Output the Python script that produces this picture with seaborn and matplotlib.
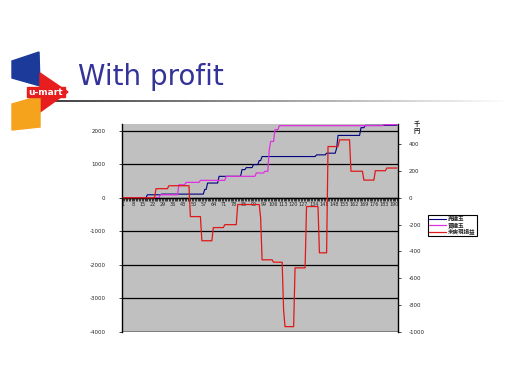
import numpy as np
import pandas as pd
import matplotlib
matplotlib.use("Agg")
import matplotlib.pyplot as plt
from matplotlib.patches import Polygon, Rectangle
import seaborn as sns

# ------------------ DATA (step levels) ------------------

series_names = ["売建玉", "買建玉", "未実現損益"]

sell_levels = [0, 90, 110, 250, 440, 640, 840, 900, 990, 1110, 1230, 1280, 1330, 1480, 1860, 2090, 2160]
sell_counts = [17, 10, 30, 2, 8, 16, 3, 5, 4, 2, 38, 7, 7, 1, 16, 3, 23]

buy_levels = [0, 90, 390, 460, 520, 640, 740, 790, 1430, 1680, 2030, 2150, 2180]
buy_counts = [26, 13, 5, 10, 18, 21, 6, 3, 1, 3, 3, 73, 10]

pnl_levels = [0, 68, 90, -140, -320, -222, -200, -50, -150, -462, -480, -835, -960,
              -522, -65, -410, 382, 432, 198, 132, 202, 222]
pnl_counts = [23, 9, 15, 8, 8, 8, 9, 16, 1, 8, 7, 1, 7, 8, 9, 6, 8, 8, 9, 8, 8, 8]

left_ticks = [2000, 1000, 0, -1000, -2000, -3000, -4000]
right_ticks = [400, 200, 0, -200, -400, -600, -800, -1000]

sell = np.repeat(sell_levels, sell_counts)
buy = np.repeat(buy_levels, buy_counts)
pnl = np.repeat(pnl_levels, pnl_counts)
steps = np.arange(1, len(sell) + 1)

df = pd.DataFrame({"step": steps, "sell": sell, "buy": buy, "pnl": pnl})

# ------------------ STYLE ------------------

sns.set_theme(style="white")
plt.rcParams["font.family"] = ["DejaVu Sans", "Noto Sans CJK JP"]

BLUE = "#000080"
MAGENTA = "#E030E0"
RED = "#E01818"

fig = plt.figure(figsize=(5.12, 3.84), dpi=100)
fig.patch.set_facecolor("white")
W, H = 512, 384

# ------------------ LOGO + TITLE ------------------

deco = fig.add_axes([0, 0, 1, 1], zorder=0)
deco.set_xlim(0, W)
deco.set_ylim(H, 0)
deco.axis("off")
deco.add_patch(Polygon([(12, 61), (39, 52), (40, 86), (12, 78)], color="#1B3A9A"))
deco.add_patch(Polygon([(40, 73), (68, 92), (40, 112)], color="#E81E1E"))
deco.add_patch(Polygon([(12, 104), (40, 96), (40, 127), (12, 130)], color="#F5A21C"))
deco.add_patch(Rectangle((27, 87), 38, 10, color="#E81E1E"))
deco.text(46, 92.5, "u-mart", color="white", fontsize=6.5, ha="center", va="center", weight="bold")
deco.text(78, 77, "With profit", color="#333399", fontsize=20, ha="left", va="center")
grad = np.linspace(0.25, 1.0, 200)[None, :]
deco.imshow(grad, cmap="gray", vmin=0, vmax=1, extent=(42, 512, 102, 100), aspect="auto")

# ------------------ CHART ------------------

ax = fig.add_axes([122 / W, 1 - 332 / H, 276 / W, 208 / H], zorder=1)
ax.set_facecolor("#C0C0C0")
ax2 = ax.twinx()

sns.lineplot(data=df, x="step", y="sell", ax=ax, color=BLUE, lw=0.8, label=series_names[0], legend=False)
sns.lineplot(data=df, x="step", y="buy", ax=ax, color=MAGENTA, lw=0.9, label=series_names[1], legend=False)
sns.lineplot(data=df, x="step", y="pnl", ax=ax2, color=RED, lw=0.9, label=series_names[2], legend=False)

ax.set_xlim(0.3, 192.8)
ax.set_ylim(-4000, 2200)
ax2.set_ylim(-1000, 550)
ax.set_xlabel("")
ax.set_ylabel("")
ax2.set_ylabel("")

for y in left_ticks[:-1]:
    ax.axhline(y, color="black", lw=0.9, zorder=0.5)

ax.set_yticks(left_ticks)
ax.set_yticklabels([str(t) for t in left_ticks])
ax2.set_yticks(right_ticks)
ax2.set_yticklabels([str(t) for t in right_ticks])
ax.tick_params(axis="y", labelsize=4, length=2, pad=10, left=True, direction="out", width=0.6)
ax2.tick_params(axis="y", labelsize=4, length=2, pad=6, right=True, direction="out", width=0.6)

# category axis crossing at zero
ax.spines["bottom"].set_position(("data", 0))
label_steps = steps[::7]
ax.set_xticks(label_steps)
ax.set_xticklabels([str(s) for s in label_steps])
ax.set_xticks(steps, minor=True)
ax.tick_params(axis="x", which="both", bottom=True, length=2, width=0.6, direction="out",
               labelsize=3.5, pad=1)

for a in (ax, ax2):
    for side in ("top", "right", "left", "bottom"):
        a.spines[side].set_visible(False)
for side, a in (("bottom", ax), ("left", ax), ("right", ax2)):
    a.spines[side].set_visible(True)
    a.spines[side].set_color("black")
    a.spines[side].set_linewidth(1.0)
ax.axhline(-4000, color="#808080", lw=1.5, zorder=0.6)

fig.text(417 / W, 1 - 127 / H, "千\n円", fontsize=4.5, ha="center", va="center",
         linespacing=0.9, family=["Noto Sans CJK JP", "DejaVu Sans"], weight="bold")

handles = ax.get_lines()[:2] + ax2.get_lines()[:1]
leg = fig.legend(handles, series_names, loc="upper left", bbox_to_anchor=(428 / W, 1 - 215 / H),
                 prop={"family": ["Noto Sans CJK JP", "DejaVu Sans"], "size": 4, "weight": "bold"},
                 frameon=True, fancybox=False, edgecolor="black", framealpha=1,
                 handlelength=3, borderpad=0.25, labelspacing=0.15, handletextpad=0.3,
                 borderaxespad=0)
leg.get_frame().set_linewidth(0.8)

plt.savefig("out.png", dpi=100)
